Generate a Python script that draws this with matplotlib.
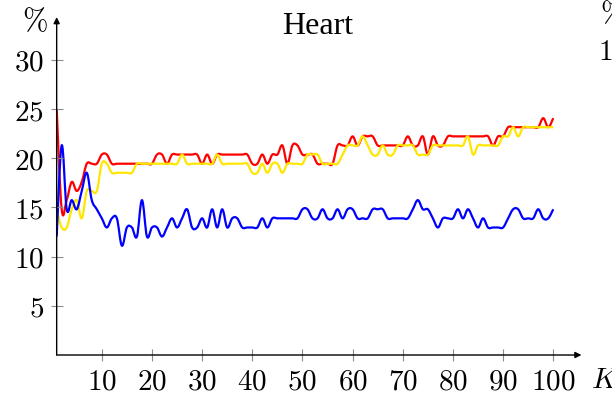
import numpy as np
import matplotlib
matplotlib.use("Agg")
import matplotlib.pyplot as plt
from matplotlib.path import Path
from matplotlib.patches import PathPatch

plt.rcParams['mathtext.fontset'] = 'cm'

# error rate (%) against K
k = np.arange(1, 101)

red = [25.0, 14.81, 15.74, 17.59, 16.67, 17.59, 19.44, 19.44, 19.44, 20.37,
       20.37, 19.44, 19.44, 19.44, 19.44, 19.44, 19.44, 19.44, 19.44, 19.44,
       20.37, 20.37, 19.44, 20.37, 20.37, 20.37, 20.37, 20.37, 20.37, 19.44,
       20.37, 19.44, 20.37, 20.37, 20.37, 20.37, 20.37, 20.37, 20.37, 19.44,
       19.44, 20.37, 19.44, 20.37, 20.37, 21.30, 19.44, 21.30, 21.30, 20.37,
       20.37, 20.37, 19.44, 19.44, 19.44, 19.44, 21.30, 21.30, 21.30, 22.22,
       21.30, 22.22, 22.22, 22.22, 21.30, 21.30, 21.30, 21.30, 21.30, 21.30,
       22.22, 21.30, 21.30, 22.22, 20.37, 22.22, 21.30, 21.30, 22.22, 22.22,
       22.22, 22.22, 22.22, 22.22, 22.22, 22.22, 22.22, 21.30, 22.22, 22.22,
       23.15, 23.15, 23.15, 23.15, 23.15, 23.15, 23.15, 24.07, 23.15, 24.07]

yellow = [14.81, 12.96, 12.96, 14.81, 15.74, 13.89, 16.67, 16.67, 16.67, 19.44,
          19.44, 18.52, 18.52, 18.52, 18.52, 18.52, 19.44, 19.44, 19.44, 19.44,
          19.44, 19.44, 19.44, 19.44, 19.44, 20.37, 19.44, 19.44, 19.44, 19.44,
          19.44, 19.44, 20.37, 19.44, 19.44, 19.44, 19.44, 19.44, 19.44, 18.52,
          18.52, 19.44, 18.52, 19.44, 19.44, 18.52, 19.44, 19.44, 19.44, 19.44,
          20.37, 20.37, 20.37, 19.44, 19.44, 19.44, 19.44, 20.37, 21.30, 21.30,
          21.30, 22.22, 21.30, 20.37, 20.37, 21.30, 20.37, 20.37, 21.30, 21.30,
          21.30, 21.30, 20.37, 20.37, 20.37, 21.30, 21.30, 21.30, 21.30, 21.30,
          21.30, 21.30, 22.22, 20.37, 21.30, 21.30, 21.30, 21.30, 21.30, 22.22,
          22.22, 23.15, 22.22, 23.15, 23.15, 23.15, 23.15, 23.15, 23.15, 23.15]

blue = [12.04, 21.30, 14.81, 15.74, 14.81, 16.67, 18.52, 15.74, 14.81, 13.89,
        12.96, 13.89, 13.89, 11.11, 12.96, 12.96, 12.04, 15.74, 12.04, 12.96,
        12.96, 12.04, 12.96, 13.89, 12.96, 13.89, 14.81, 12.96, 12.96, 13.89,
        12.96, 14.81, 12.96, 14.81, 12.96, 13.89, 13.89, 12.96, 12.96, 12.96,
        12.96, 13.89, 12.96, 13.89, 13.89, 13.89, 13.89, 13.89, 13.89, 14.81,
        14.81, 13.89, 13.89, 14.81, 13.89, 13.89, 14.81, 13.89, 14.81, 14.81,
        13.89, 13.89, 13.89, 14.81, 14.81, 14.81, 13.89, 13.89, 13.89, 13.89,
        13.89, 14.81, 15.74, 14.81, 14.81, 13.89, 12.96, 13.89, 13.89, 13.89,
        14.81, 13.89, 14.81, 13.89, 12.96, 13.89, 12.96, 12.96, 12.96, 12.96,
        13.89, 14.81, 14.81, 13.89, 13.89, 13.89, 14.81, 13.89, 13.89, 14.81]

xticks = [10, 20, 30, 40, 50, 60, 70, 80, 90, 100]
yticks = [5, 10, 15, 20, 25, 30]


def smooth_path(x, y, tension=0.18):
    # cubic bezier through every point, like "smooth" in pgfplots
    pts = np.column_stack([x, y]).astype(float)
    tang = np.zeros_like(pts)
    tang[1:-1] = pts[2:] - pts[:-2]
    tang[0] = pts[1] - pts[0]
    tang[-1] = pts[-1] - pts[-2]
    verts = [pts[0]]
    codes = [Path.MOVETO]
    for i in range(len(pts) - 1):
        verts += [pts[i] + tension * tang[i],
                  pts[i + 1] - tension * tang[i + 1],
                  pts[i + 1]]
        codes += [Path.CURVE4] * 3
    return Path(verts, codes)


fig = plt.figure(figsize=(6.12, 4.01), dpi=100)
ax = fig.add_axes([0.0926, 0.1147, 0.8524, 0.8343])

for vals, col in [(red, '#ff0000'), (yellow, '#ffe600'), (blue, '#0000ff')]:
    ax.add_patch(PathPatch(smooth_path(k, vals), fill=False,
                           edgecolor=col, lw=1.6, joinstyle='round'))

ax.set_xlim(1, 105)
ax.set_ylim(0, 34)

for s in ax.spines.values():
    s.set_visible(False)

# axis lines with arrow heads
arrow = dict(arrowstyle='-|>', lw=1.0, color='black',
             mutation_scale=9, shrinkA=0, shrinkB=0)
ax.annotate('', xy=(1.006, 0), xytext=(0, 0), xycoords='axes fraction',
            arrowprops=arrow, annotation_clip=False)
ax.annotate('', xy=(0, 1.01), xytext=(0, 0), xycoords='axes fraction',
            arrowprops=arrow, annotation_clip=False)

ax.set_xticks(xticks)
ax.set_xticklabels([f'${v}$' for v in xticks], fontsize=21)
ax.set_yticks(yticks)
ax.set_yticklabels([f'${v}$' for v in yticks], fontsize=21)
ax.tick_params(direction='inout', length=8, width=0.8, color='0.55', pad=5)

fig.text(318 / 612, 1 - 27 / 401, 'Heart', ha='center', va='center',
         family='Liberation Serif', fontsize=23)
fig.text(48 / 612, 1 - 22 / 401, r'$\%$', ha='right', va='center', fontsize=22)
fig.text(591 / 612, 1 - 380 / 401, r'$K$', ha='left', va='center', fontsize=21)

# labels of the neighbouring panel, cut at the edge
fig.text(600 / 612, 1 - 14 / 401, r'$\%$', ha='left', va='center', fontsize=21)
fig.text(598 / 612, 1 - 52 / 401, r'$1$', ha='left', va='center', fontsize=21)

fig.savefig('out.png', dpi=100)
